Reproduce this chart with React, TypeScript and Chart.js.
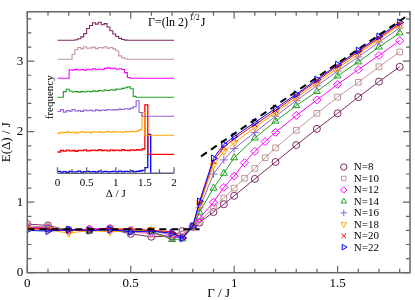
import React, { useEffect, useRef } from 'react';
import { Chart, registerables } from 'chart.js';
import { drawPoint } from 'chart.js/helpers';
Chart.register(...registerables);

// ---------- main panel data ----------
const GAMMA = [0, 0.1, 0.2, 0.3, 0.4, 0.5, 0.6, 0.7, 0.75, 0.8, 0.8326, 0.9, 0.95, 1.0, 1.05, 1.1, 1.15, 1.2, 1.3, 1.4, 1.5, 1.6, 1.7, 1.8];
const E_N8 = [0.69, 0.67, 0.60, 0.60, 0.62, 0.55, 0.51, 0.52, 0.59, 0.65, 0.71, 0.86, 0.97, 1.09, null, 1.33, null, 1.57, 1.81, 2.04, 2.26, 2.49, 2.71, 2.92];
const E_N10 = [0.66, 0.65, 0.61, 0.61, 0.63, 0.58, 0.55, 0.50, 0.55, 0.65, 0.73, 0.92, 1.06, 1.20, 1.34, 1.48, 1.63, 1.77, 2.02, 2.26, 2.49, 2.70, 2.92, 3.13];
const E_N12 = [0.64, 0.64, 0.60, 0.62, 0.63, 0.59, 0.57, 0.50, 0.50, 0.65, 0.77, 1.00, 1.21, 1.37, 1.56, 1.72, 1.86, 1.99, 2.23, 2.45, 2.67, 2.88, 3.08, 3.29];
const E_N14 = [0.63, 0.63, 0.61, 0.59, 0.61, 0.60, 0.59, 0.47, 0.48, 0.65, 0.86, 1.20, 1.41, 1.63, null, 1.91, null, 2.15, 2.37, 2.57, 2.79, 2.99, 3.20, 3.40];
const E_N16 = [0.62, 0.62, 0.60, 0.60, 0.60, 0.60, 0.60, 0.53, 0.49, 0.66, 0.92, 1.40, 1.60, 1.76, null, 1.99, null, 2.22, 2.44, 2.65, 2.86, 3.06, 3.27, 3.47];
const E_N18 = [0.62, 0.61, 0.56, 0.60, 0.58, 0.59, 0.61, 0.55, 0.50, 0.66, 0.96, 1.52, 1.72, 1.84, null, 2.06, null, 2.27, 2.48, 2.69, 2.90, 3.10, 3.31, 3.51];
const E_N20 = [0.63, 0.62, 0.60, 0.60, 0.62, 0.62, 0.60, 0.58, 0.50, 0.66, 0.99, 1.58, 1.78, 1.90, null, 2.10, null, 2.30, 2.51, 2.72, 2.93, 3.13, 3.33, 3.53];
const E_N22 = [0.60, 0.59, 0.61, 0.60, 0.61, 0.58, 0.59, 0.56, 0.49, 0.66, 1.01, 1.62, 1.82, 1.93, null, 2.13, null, 2.33, 2.53, 2.74, 2.95, 3.15, 3.35, 3.55];

const CRIT_X = [0, 0.8326];
const CRIT_Y = [0.615, 0.615];
const ASYM_X = [0.84, 1.85];
const ASYM_Y = [1.65, 3.67];

const LABELS = ['N=8', 'N=10', 'N=12', 'N=14', 'N=16', 'N=18', 'N=20', 'N=22'];
const SERIES = [E_N8, E_N10, E_N12, E_N14, E_N16, E_N18, E_N20, E_N22];
const COLORS = ['#7d2a62', '#c29797', '#ff00ff', '#22a022', '#9060d8', '#ffa500', '#ff0000', '#0000ff'];
const MARKERS = ['circle', 'rect', 'rectRot', 'triangle', 'cross', 'triangle', 'crossRot', 'triangle'];
const ROTATIONS = [0, 0, 0, 0, 0, 180, 0, 90];
const RADII = [3.5, 4, 4, 4, 4, 4, 3.5, 4];

// ---------- inset data (histograms of Δ/J at Γ=(ln 2)^{1/2} J) ----------
const DELTA = [0, 0.05, 0.1, 0.15, 0.2, 0.25, 0.3, 0.35, 0.4, 0.45, 0.5, 0.55, 0.6, 0.65, 0.7, 0.75, 0.8, 0.85, 0.9, 0.95, 1.0, 1.05, 1.1, 1.15, 1.2, 1.25, 1.3, 1.35, 1.4, 1.45, 1.5, 1.55, 1.6, 1.65, 1.7, 1.75, 1.8, 1.85, 1.9, 1.95, 2.0];
const H_N8 = [0, 0, 0, 0, 0, 0, 0.03, 0.08, 0.18, 0.35, 0.62, 0.78, 0.92, 0.85, 0.95, 0.82, 0.88, 0.7, 0.5, 0.33, 0.2, 0.1, 0.04, 0.01, 0, 0, 0, 0, 0, 0, 0, 0, 0, 0, 0, 0, 0, 0, 0, 0, 0];
const H_N10 = [0, 0, 0, 0, 0, 0.25, 0.5, 0.62, 0.55, 0.66, 0.58, 0.6, 0.64, 0.56, 0.62, 0.6, 0.66, 0.58, 0.62, 0.55, 0.45, 0.18, 0.08, 0.03, 0, 0, 0, 0, 0, 0, 0, 0, 0, 0, 0, 0, 0, 0, 0, 0, 0];
const H_N12 = [0, 0, 0, 0, 0.45, 0.43, 0.47, 0.44, 0.46, 0.43, 0.48, 0.45, 0.5, 0.46, 0.49, 0.45, 0.52, 0.55, 0.5, 0.53, 0.48, 0.5, 0.46, 0.3, 0.04, 0, 0, 0, 0, 0, 0, 0, 0, 0, 0, 0, 0, 0, 0, 0, 0];
const H_N14 = [0, 0, 0.3, 0.42, 0.33, 0.28, 0.3, 0.27, 0.3, 0.28, 0.32, 0.3, 0.34, 0.31, 0.36, 0.33, 0.38, 0.36, 0.4, 0.38, 0.43, 0.42, 0.47, 0.5, 0.55, 0.45, 0.05, 0, 0, 0, 0, 0, 0, 0, 0, 0, 0, 0, 0, 0, 0];
const H_N16 = [0.25, 0.35, 0.22, 0.3, 0.27, 0.36, 0.28, 0.3, 0.26, 0.33, 0.29, 0.31, 0.28, 0.34, 0.3, 0.33, 0.31, 0.36, 0.33, 0.35, 0.34, 0.38, 0.36, 0.4, 0.38, 0.43, 0.5, 0.82, 0.2, 0, 0, 0, 0, 0, 0, 0, 0, 0, 0, 0, 0];
const H_N18 = [0.1, 0.16, 0.14, 0.18, 0.15, 0.17, 0.13, 0.16, 0.18, 0.15, 0.17, 0.14, 0.19, 0.16, 0.18, 0.15, 0.17, 0.2, 0.16, 0.18, 0.17, 0.19, 0.16, 0.2, 0.18, 0.21, 0.19, 0.22, 0.3, 1.2, 0, 0, 0, 0, 0, 0, 0, 0, 0, 0, 0];
const H_N20 = [0.12, 0.2, 0.17, 0.22, 0.18, 0.2, 0.16, 0.21, 0.19, 0.23, 0.18, 0.2, 0.22, 0.19, 0.24, 0.2, 0.22, 0.18, 0.23, 0.2, 0.22, 0.19, 0.24, 0.21, 0.2, 0.23, 0.21, 0.24, 0.22, 0.28, 2.6, 0, 0, 0, 0, 0, 0, 0, 0, 0, 0];
const H_N22 = [0.1, 0.06, 0.09, 0.05, 0.1, 0.07, 0.08, 0.11, 0.06, 0.09, 0.1, 0.07, 0.09, 0.06, 0.11, 0.08, 0.1, 0.07, 0.09, 0.1, 0.08, 0.11, 0.07, 0.1, 0.09, 0.12, 0.08, 0.1, 0.12, 0.15, 0.3, 2.05, 0, 0, 0, 0, 0, 0, 0, 0, 0];
const HISTS = [H_N8, H_N10, H_N12, H_N14, H_N16, H_N18, H_N20, H_N22];
const HIST_OFFSETS = [7, 6, 5, 4, 3, 2, 1, 0];

const FONT = "'Liberation Serif', 'Times New Roman', serif";
const AXIS_COLOR = '#666666';

const mainDecor = {
  id: 'mainDecor',
  afterDraw(chart: any) {
    const { ctx, chartArea: a, scales } = chart;
    const x = scales.x, y = scales.y;
    ctx.save();
    ctx.strokeStyle = AXIS_COLOR;
    ctx.lineWidth = 1.5;
    ctx.strokeRect(a.left, a.top, a.right - a.left, a.bottom - a.top);
    ctx.lineWidth = 1.2;
    ctx.beginPath();
    for (let k = 0; k <= 18; k++) {
      const px = x.getPixelForValue(k / 10);
      const len = k % 5 === 0 ? 7 : 4;
      ctx.moveTo(px, a.bottom); ctx.lineTo(px, a.bottom - len);
      ctx.moveTo(px, a.top); ctx.lineTo(px, a.top + len);
    }
    for (let k = 0; k <= 18; k++) {
      const py = y.getPixelForValue(k / 5);
      const len = k % 5 === 0 ? 7 : 4;
      ctx.moveTo(a.left, py); ctx.lineTo(a.left + len, py);
      ctx.moveTo(a.right, py); ctx.lineTo(a.right - len, py);
    }
    ctx.stroke();

    // legend
    const lx = a.left + 0.827 * (a.right - a.left);
    const ly0 = a.top + 0.595 * (a.bottom - a.top);
    const dy = 11.45;
    ctx.font = `11px ${FONT}`;
    ctx.textBaseline = 'middle';
    ctx.textAlign = 'left';
    LABELS.forEach((lab, i) => {
      const yy = ly0 + i * dy;
      ctx.strokeStyle = COLORS[i];
      ctx.fillStyle = 'rgba(0,0,0,0)';
      ctx.lineWidth = 1;
      drawPoint(ctx, { pointStyle: MARKERS[i], rotation: ROTATIONS[i], radius: 3.2, borderWidth: 1 }, lx, yy);
      ctx.fillStyle = '#000';
      ctx.fillText(lab, lx + 10, yy + 0.5);
    });

    // critical point annotation
    ctx.fillStyle = '#000';
    ctx.font = `12px ${FONT}`;
    ctx.textBaseline = 'alphabetic';
    const t1 = 'Γ=(ln 2)';
    const tx = 148, ty = 26;
    ctx.fillText(t1, tx, ty);
    const w1 = ctx.measureText(t1).width;
    ctx.font = `8px ${FONT}`;
    ctx.fillText('1/2', tx + w1 + 1.5, ty - 6);
    const w2 = ctx.measureText('1/2').width;
    ctx.font = `12px ${FONT}`;
    ctx.fillText('J', tx + w1 + w2 + 2.5, ty);
    ctx.restore();
  },
};

const insetDecor = {
  id: 'insetDecor',
  afterDraw(chart: any) {
    const { ctx, chartArea: a, scales } = chart;
    const x = scales.x;
    ctx.save();
    ctx.strokeStyle = AXIS_COLOR;
    ctx.lineWidth = 1.3;
    ctx.beginPath();
    ctx.moveTo(x.getPixelForValue(0), a.bottom);
    ctx.lineTo(x.getPixelForValue(2), a.bottom);
    for (let k = 0; k <= 8; k++) {
      const px = x.getPixelForValue(k * 0.25);
      const len = k % 2 === 0 ? 6 : 4;
      ctx.moveTo(px, a.bottom); ctx.lineTo(px, a.bottom - len);
    }
    ctx.stroke();
    ctx.restore();
  },
};

export default function App() {
  const mainRef = useRef<HTMLCanvasElement | null>(null);
  const insetRef = useRef<HTMLCanvasElement | null>(null);

  useEffect(() => {
    const seriesSets = LABELS.map((lab, i) => ({
      label: lab,
      data: GAMMA.map((g, j) => ({ x: g, y: SERIES[i][j] })),
      borderColor: COLORS[i],
      backgroundColor: 'rgba(0,0,0,0)',
      borderWidth: 1,
      pointStyle: MARKERS[i],
      rotation: ROTATIONS[i],
      pointRadius: RADII[i],
      pointBorderWidth: 1,
      pointBorderColor: COLORS[i],
      pointBackgroundColor: 'rgba(0,0,0,0)',
      spanGaps: true,
      tension: 0,
    })).reverse();

    const dashed = (xs: number[], ys: number[]) => ({
      label: '',
      data: xs.map((v, j) => ({ x: v, y: ys[j] })),
      borderColor: '#000',
      borderWidth: 2,
      borderDash: [7, 5],
      pointRadius: 0,
      fill: false,
    });

    const main = new Chart(mainRef.current as HTMLCanvasElement, {
      type: 'line',
      data: { datasets: [dashed(CRIT_X, CRIT_Y), dashed(ASYM_X, ASYM_Y), ...seriesSets] as any },
      options: {
        animation: false,
        responsive: false,
        devicePixelRatio: 1,
        layout: { padding: { top: 1.7, right: 2, left: 0, bottom: 0 } },
        plugins: { legend: { display: false }, tooltip: { enabled: false } },
        scales: {
          x: {
            type: 'linear', min: 0, max: 1.85,
            grid: { display: false, drawTicks: false },
            border: { display: false },
            ticks: { stepSize: 0.5, includeBounds: false, color: '#000', font: { family: FONT, size: 13 }, padding: 3, maxRotation: 0, callback: (v: any) => String(v) },
            title: { display: true, text: 'Γ / J', color: '#000', font: { family: FONT, size: 13, lineHeight: 1 }, padding: 0 },
            afterFit: (s: any) => { s.height = 27.3; },
          },
          y: {
            type: 'linear', min: 0, max: 3.7,
            grid: { display: false, drawTicks: false },
            border: { display: false },
            ticks: { stepSize: 1, includeBounds: false, color: '#000', font: { family: FONT, size: 13 }, padding: 4, callback: (v: any) => String(v) },
            title: { display: true, text: 'E(Δ) / J', color: '#000', font: { family: FONT, size: 13, lineHeight: 1 }, padding: 0 },
            afterFit: (s: any) => { s.width = 27.3; },
          },
        },
      } as any,
      plugins: [mainDecor],
    });

    const histSets = LABELS.map((lab, i) => ({
      label: lab,
      data: DELTA.map((d, j) => ({ x: d, y: HIST_OFFSETS[i] + HISTS[i][j] })),
      borderColor: COLORS[i],
      borderWidth: i >= 6 ? 1.3 : 1.1,
      pointRadius: 0,
      stepped: 'before',
      fill: false,
      clip: false,
    }));

    const inset = new Chart(insetRef.current as HTMLCanvasElement, {
      type: 'line',
      data: { datasets: histSets as any },
      options: {
        animation: false,
        responsive: false,
        devicePixelRatio: 1,
        layout: { padding: { top: 9.3, right: 9, left: 0, bottom: 0 } },
        plugins: { legend: { display: false }, tooltip: { enabled: false } },
        scales: {
          x: {
            type: 'linear', min: 0, max: 2,
            grid: { display: false, drawTicks: false },
            border: { display: false },
            ticks: { stepSize: 0.5, color: '#000', font: { family: FONT, size: 11 }, padding: 3, maxRotation: 0, callback: (v: any) => String(v) },
            title: { display: true, text: 'Δ / J', color: '#000', font: { family: FONT, size: 11 }, padding: { top: 0, bottom: 1.4 } },
            afterFit: (s: any) => { s.height = 28.7; },
          },
          y: {
            type: 'linear', min: 0, max: 8,
            grid: { display: false, drawTicks: false },
            border: { display: false },
            ticks: { display: false },
            title: { display: true, text: 'frequency', color: '#000', font: { family: FONT, size: 11 }, padding: { top: 5.4, bottom: 0 } },
            afterFit: (s: any) => { s.width = 19.5; },
          },
        },
      } as any,
      plugins: [insetDecor],
    });

    return () => { main.destroy(); inset.destroy(); };
  }, []);

  return (
    <div style={{ position: 'fixed', left: 0, top: 0, width: 415, height: 300, background: '#fff' }}>
      <canvas ref={mainRef} width={415} height={300} style={{ position: 'absolute', left: 0, top: 0, width: 415, height: 300 }} />
      <canvas ref={insetRef} width={145} height={190} style={{ position: 'absolute', left: 38, top: 12, width: 145, height: 190 }} />
    </div>
  );
}
